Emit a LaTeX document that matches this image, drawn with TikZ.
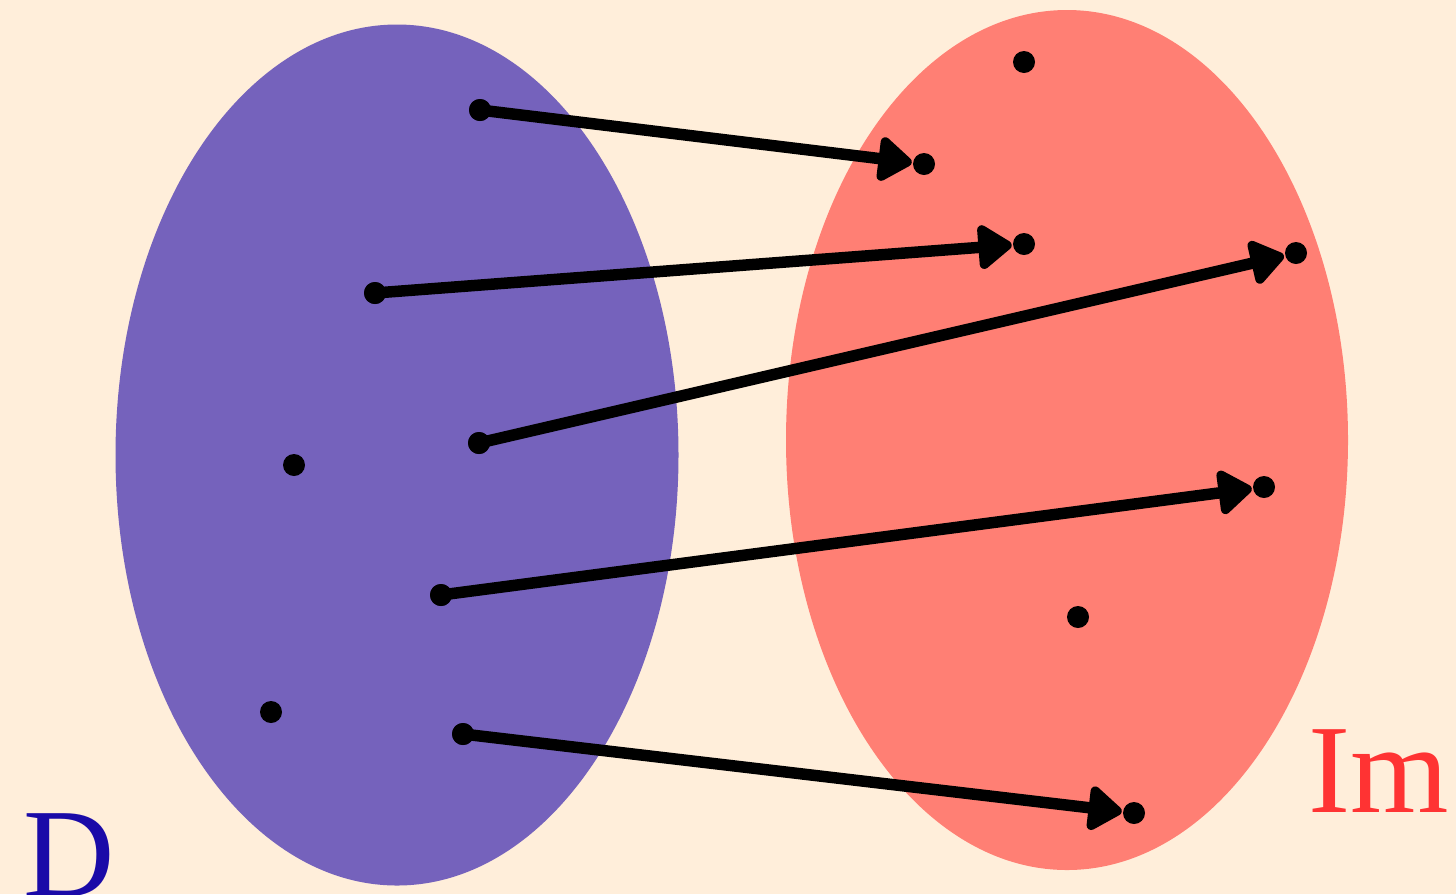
\documentclass[tikz,border=0pt]{standalone}
\usepackage{fontspec}
\setmainfont{Liberation Serif}
\usetikzlibrary{arrows.meta}
\definecolor{bgc}{HTML}{FFEEDA}
\definecolor{domc}{HTML}{7562BC}
\definecolor{imc}{HTML}{FF7F74}
\definecolor{dlab}{HTML}{1A0AA8}
\definecolor{imlab}{HTML}{FF3333}
\tikzset{
  pt/.style={circle,fill=black,inner sep=0pt,minimum size=0.44cm},
  maparrow/.style={line width=0.23cm,-{Triangle[length=0.74cm,width=1.0cm,round]},shorten >=0.02cm},
  biglabel/.style={inner sep=0pt,font=\fontsize{72}{72}\selectfont}
}
\begin{document}
\begin{tikzpicture}[x=0.02cm,y=-0.02cm]
\fill[bgc] (0,0) rectangle (1456,894);
\useasboundingbox (0,0) rectangle (1456,894);
\fill[domc] (397,455) ellipse [x radius=281.5, y radius=430.5];
\fill[imc] (1067,440) ellipse [x radius=281, y radius=430];
% domain points
\node[pt] (d1) at (480,110) {};
\node[pt] (d2) at (375,293) {};
\node[pt] (d3) at (479,443) {};
\node[pt] (d4) at (294,465) {};
\node[pt] (d5) at (441,595) {};
\node[pt] (d6) at (271,712) {};
\node[pt] (d7) at (463,734) {};
% image points
\node[pt] (i1) at (1024,62) {};
\node[pt] (i2) at (924,164) {};
\node[pt] (i3) at (1024,244) {};
\node[pt] (i4) at (1296,253) {};
\node[pt] (i5) at (1264,487) {};
\node[pt] (i6) at (1078,617) {};
\node[pt] (i7) at (1134,813) {};
\draw[maparrow] (d1.center) -- (i2);
\draw[maparrow] (d2.center) -- (i3);
\draw[maparrow] (d3.center) -- (i4);
\draw[maparrow] (d5.center) -- (i5);
\draw[maparrow] (d7.center) -- (i7);
\node[pt] at (d1) {};
\node[pt] at (d2) {};
\node[pt] at (d3) {};
\node[pt] at (d5) {};
\node[pt] at (d7) {};
\node[biglabel,text=dlab,anchor=base west] (dl) at (23,896) {D};
\node[biglabel,text=imlab,anchor=base west] (il) at (1308,812) {Im};
\end{tikzpicture}
\end{document}
